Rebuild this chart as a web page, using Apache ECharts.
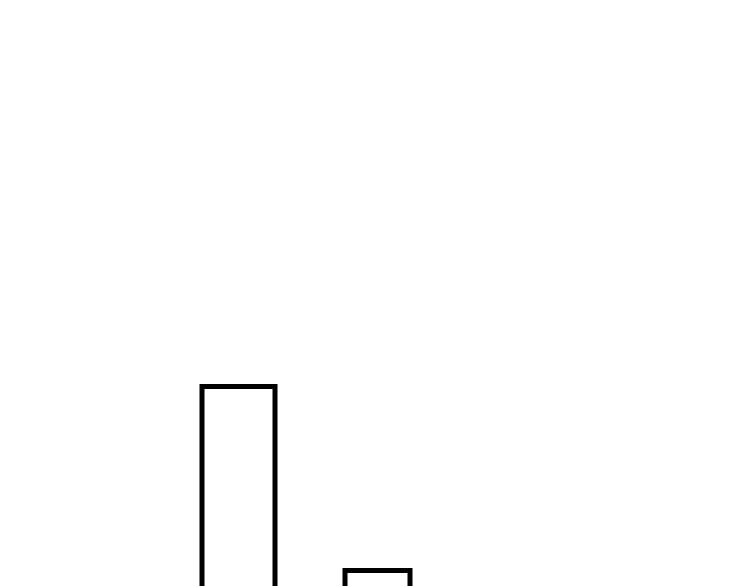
<!DOCTYPE html>
<html>
<head>
<meta charset="utf-8">
<script src="https://cdn.jsdelivr.net/npm/echarts@6/dist/echarts.min.js"></script>
<style>
    html, body { margin: 0; padding: 0; background: #fff; overflow: hidden; }
    /* the bars run past the bottom of the window, so the chart is taller than it */
    #chart { width: 750px; height: 648px; }
</style>
</head>
<body>
<div id="chart"></div>
<script>
    // data
    var categories = ['A', 'B'];
    var firstBar = [33, '-'];
    var secondBar = ['-', 10];

    var chart = echarts.init(document.getElementById('chart'));

    var barStyle = {
        color: '#fff',
        borderColor: '#000',
        borderWidth: 5
    };

    chart.setOption({
        backgroundColor: '#fff',
        animation: false,
        grid: {
            left: 169,
            width: 278,
            top: 8,
            bottom: 0
        },
        // one hidden axis per series so each bar keeps its own width, centred
        xAxis: [{
            type: 'category',
            data: categories,
            show: false
        }, {
            type: 'category',
            data: categories,
            show: false
        }],
        yAxis: {
            type: 'value',
            min: 0,
            max: 80,
            show: false
        },
        series: [{
            type: 'bar',
            xAxisIndex: 0,
            data: firstBar,
            barWidth: 78,
            itemStyle: barStyle
        }, {
            type: 'bar',
            xAxisIndex: 1,
            data: secondBar,
            barWidth: 70,
            itemStyle: barStyle
        }]
    });
</script>
</body>
</html>
